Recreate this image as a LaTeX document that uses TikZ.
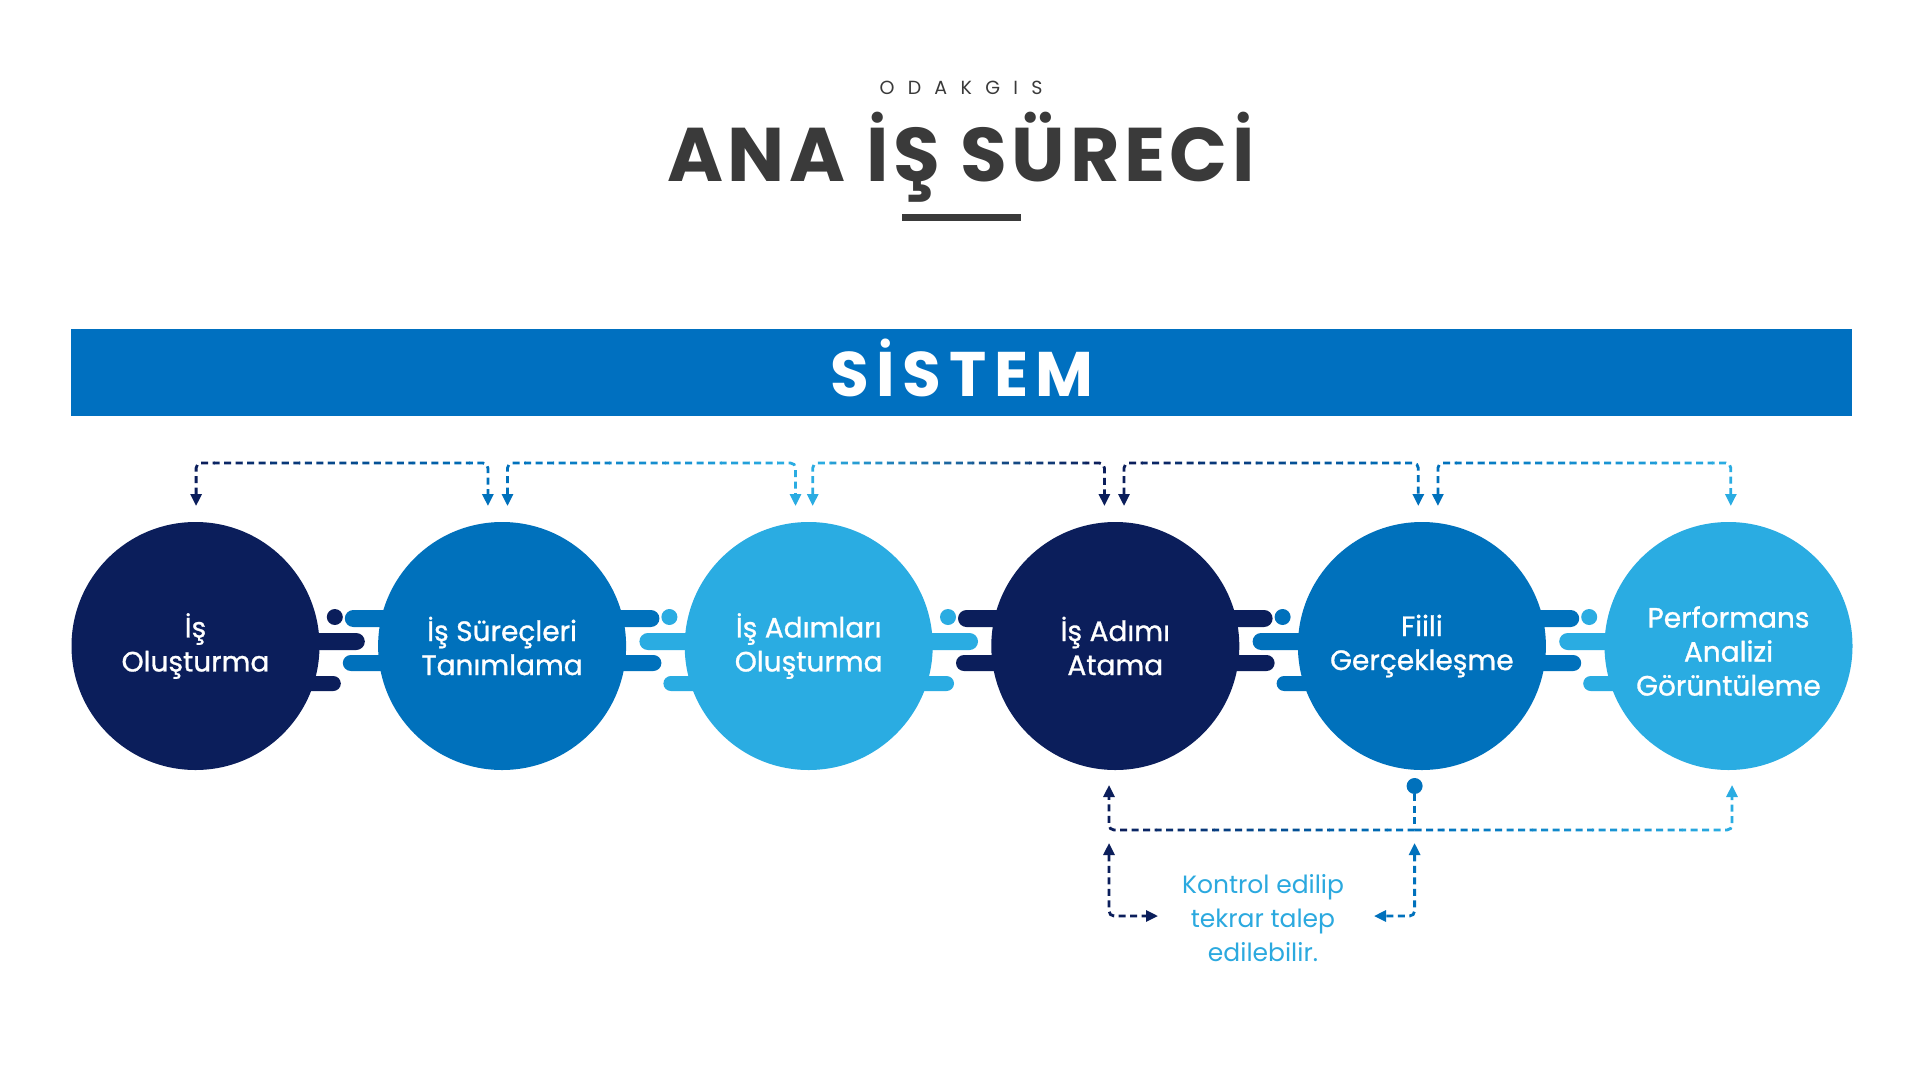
\documentclass[tikz,border=0pt]{standalone}
\usepackage{fontspec}
\setmainfont{Poppins}
\newfontfamily\circfont[FakeBold=1]{Poppins}
\newfontfamily\odakfont[LetterSpace=70]{Poppins}
\newfontfamily\ttlfont[LetterSpace=6]{Poppins}
\newfontfamily\banfont[LetterSpace=12]{Poppins}
\usetikzlibrary{arrows.meta,calc}

\definecolor{cnavy}{HTML}{0B1E5B}
\definecolor{cblue}{HTML}{0071BC}
\definecolor{clight}{HTML}{2AACE2}
\definecolor{cban}{HTML}{0070C0}
\definecolor{cgray}{HTML}{3A3A3A}
\definecolor{ctext}{HTML}{2BA9DF}

\tikzset{
  circ/.style={circle, minimum size=248pt, inner sep=0pt, text=white, align=center,
    font=\circfont\fontsize{28}{34}\selectfont},
  ctxt/.style={text=white, align=center, font=\circfont\fontsize{28}{34}\selectfont},
  dsh/.style={line width=2.8pt, dash pattern=on 7pt off 4.5pt, rounded corners=5pt},
  tipb/.style={{Triangle[length=12pt,width=11pt]}-{Triangle[length=12pt,width=11pt]}},
  tipe/.style={-{Triangle[length=12pt,width=11pt]}},
}

\newcommand\gN{10}
% gradient dashed path: #1 path, #2 left x, #3 right x, #4 left colour, #5 right colour
\newcommand\gpath[5]{%
  \foreach \k in {0,...,\gN}{%
    \pgfmathsetmacro\xl{#2+(#3-#2)*\k/(\gN+1)-0.4}%
    \pgfmathsetmacro\xr{#2+(#3-#2)*(\k+1)/(\gN+1)+0.4}%
    \pgfmathtruncatemacro\pc{100-100*\k/\gN}%
    \begin{scope}
      \clip (\xl,-10) rectangle (\xr,1100);
      \draw[dsh, draw=#4!\pc!#5] #1;
    \end{scope}
  }%
}

% comb junction: #1 mid x, #2 mirror (1/-1), #3 near colour, #4 far colour
\newcommand\comb[4]{%
  \begin{scope}[shift={(#1,646)}, xscale=#2]
    \fill[#3] (-14,-29) circle (8);
    \fill[#4, rounded corners=8.5pt] (-4,-36) rectangle (55,-19);
    \fill[#3, rounded corners=8.5pt] (-55,-13) rectangle (16,4);
    \fill[#4, rounded corners=8pt] (-6,9) rectangle (55,25);
    \fill[#3, rounded corners=7.5pt] (-55,30) rectangle (-8,45);
  \end{scope}%
}

\begin{document}
\begin{tikzpicture}[x=1pt, y=-1pt]
\useasboundingbox[fill=white] (0,0) rectangle (1922,1082);

% title
\node[anchor=base, font=\odakfont\fontsize{19}{22}\selectfont, text=cgray] (brand) at (961,94) {ODAKGIS};
\node[anchor=base, font=\ttlfont\bfseries\fontsize{76}{80}\selectfont, text=cgray] (title) at (961,181) {ANA İŞ SÜRECİ};
\node[fill=cgray, minimum width=119pt, minimum height=6.5pt, inner sep=0pt] (bar) at (961.5,217.6) {};

% banner
\node[fill=cban, minimum width=1781pt, minimum height=87pt, inner sep=0pt] (banner) at (961.5,372) {};
\node[anchor=base, font=\banfont\bfseries\fontsize{63}{66}\selectfont, text=white] (sistem) at (962,396) {SİSTEM};

% circles
\node[circ, fill=cnavy]  (c1) at (195.5,646)  {İş\\Oluşturma};
\node[circ, fill=cblue]  (c2) at (502.1,646)  {İş Süreçleri\\Tanımlama};
\node[circ, fill=clight] (c3) at (808.7,646)  {İş Adımları\\Oluşturma};
\node[circ, fill=cnavy]  (c4) at (1115.3,646) {İş Adımı\\Atama};
\node[circ, fill=cblue]  (c5) at (1421.9,646) {Fiili\\Gerçekleşme};
\node[circ, fill=clight] (c6) at (1728.5,646) {};
\node[ctxt] (c6t) at (1728.5,651) {Performans\\Analizi\\Görüntüleme};

% junction combs
\comb{348.8}{1}{cnavy}{cblue}
\comb{655.4}{-1}{clight}{cblue}
\comb{962.0}{1}{clight}{cnavy}
\comb{1268.6}{-1}{cblue}{cnavy}
\comb{1575.2}{-1}{clight}{cblue}

% top brackets
\coordinate (lev) at (0,463);
\coordinate (a1) at (196.1,506);
\coordinate (a2i) at (487.9,506);
\coordinate (a2o) at (507.5,506);
\coordinate (a3i) at (795.5,506);
\coordinate (a3o) at (812.7,506);
\coordinate (a4i) at (1104.4,506);
\coordinate (a4o) at (1124.0,506);
\coordinate (a5i) at (1418.3,506);
\coordinate (a5o) at (1437.9,506);
\coordinate (a6) at (1730.8,506);

\gpath{[tipb] (a1) -- (a1 |- lev) -- (a2i |- lev) -- (a2i)}{186}{498}{cnavy}{cblue}
\gpath{[tipb] (a2o) -- (a2o |- lev) -- (a3i |- lev) -- (a3i)}{497.5}{805.5}{cblue}{clight}
\gpath{[tipb] (a3o) -- (a3o |- lev) -- (a4i |- lev) -- (a4i)}{802.7}{1114.4}{clight}{cnavy}
\gpath{[tipb] (a4o) -- (a4o |- lev) -- (a5i |- lev) -- (a5i)}{1114}{1428.3}{cnavy}{cblue}
\gpath{[tipb] (a5o) -- (a5o |- lev) -- (a6 |- lev) -- (a6)}{1427.9}{1740.8}{cblue}{clight}

% bottom feedback
\node[circle, fill=cblue, minimum size=16pt, inner sep=0pt] (dot) at (1414.6,786) {};
\coordinate (lev2) at (0,830);
\coordinate (b4) at (1109,785);
\coordinate (b6) at (1732,785);
\draw[dsh, cblue] (dot.south) -- (dot.south |- lev2);
\gpath{[tipe] (dot |- lev2) -- (b4 |- lev2) -- (b4)}{1099}{1416}{cnavy}{cblue}
\gpath{[tipe] (dot |- lev2) -- (b6 |- lev2) -- (b6)}{1413}{1742}{cblue}{clight}

\coordinate (k1) at (1109,843);
\coordinate (k2) at (1158,916);
\coordinate (k3) at (1414.6,843);
\coordinate (k4) at (1374,916);
\draw[dsh, cnavy, tipb] (k1) -- (k1 |- k2) -- (k2);
\draw[dsh, cblue, tipb] (k3) -- (k3 |- k4) -- (k4);

\node[align=center, text=ctext, font=\fontsize{25}{34}\selectfont] (note) at (1263,918)
  {Kontrol edilip\\tekrar talep\\edilebilir.};
\end{tikzpicture}
\end{document}
